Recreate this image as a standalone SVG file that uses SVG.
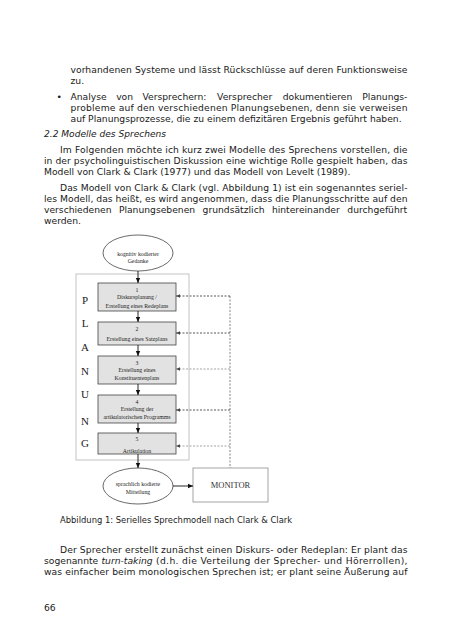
<svg xmlns="http://www.w3.org/2000/svg" width="452" height="640" viewBox="0 0 452 640">
<defs>
<style>
.t{font-family:"DejaVu Sans",Verdana,sans-serif;font-size:9.2px;fill:#1a1a1a}
.c{font-family:"DejaVu Sans",Verdana,sans-serif;font-size:8.4px;fill:#1a1a1a}
.i{font-style:italic}
.b{font-family:"Liberation Serif","Times New Roman",serif;font-size:5.8px;fill:#222;text-anchor:middle}
.L{font-family:"Liberation Serif","Times New Roman",serif;font-size:11px;fill:#222;text-anchor:middle}
.box{fill:#e2e2e2;stroke:#444;stroke-width:0.8}
.ell{fill:#fff;stroke:#444;stroke-width:0.8}
.arr{stroke:#111;stroke-width:0.9;fill:none}
.dash{stroke-width:0.9;stroke-dasharray:2 1.5;fill:none}
</style>
<marker id="ah" markerWidth="6" markerHeight="6" refX="5" refY="3" orient="auto" markerUnits="userSpaceOnUse">
<path d="M0,0.8 L5,3 L0,5.2 Z" fill="#111"/>
</marker>
<marker id="dh" markerWidth="5" markerHeight="5" refX="4" refY="2.5" orient="auto" markerUnits="userSpaceOnUse">
<path d="M0,0.8 L4,2.5 L0,4.2 Z" fill="#444"/>
</marker>
</defs>
<rect width="452" height="640" fill="#fff"/>

<g id="body-text">
<text class="t" x="70.5" y="73" textLength="337" lengthAdjust="spacing">vorhandenen Systeme und lässt Rückschlüsse auf deren Funktionsweise</text>
<text class="t" x="70.5" y="84">zu.</text>
<text class="t" x="56.5" y="100">•</text>
<text class="t" y="100"><tspan x="70.5">Analyse</tspan><tspan x="116.2">von</tspan><tspan x="142.5">Versprechern:</tspan><tspan x="217.1">Versprecher</tspan><tspan x="282.7">dokumentieren</tspan><tspan x="362.3">Planungs-</tspan></text>
<text class="t" x="70.5" y="111" textLength="337" lengthAdjust="spacing">probleme auf den verschiedenen Planungsebenen, denn sie verweisen</text>
<text class="t" x="70.5" y="122">auf Planungsprozesse, die zu einem defizitären Ergebnis geführt haben.</text>
<text class="t i" x="44" y="137" textLength="122" lengthAdjust="spacingAndGlyphs">2.2 Modelle des Sprechens</text>
<text class="t" x="60" y="152.5" textLength="347.5" lengthAdjust="spacing">Im Folgenden möchte ich kurz zwei Modelle des Sprechens vorstellen, die</text>
<text class="t" x="44" y="163.5" textLength="363.5" lengthAdjust="spacing">in der psycholinguistischen Diskussion eine wichtige Rolle gespielt haben, das</text>
<text class="t" x="44" y="174.5">Modell von Clark &amp; Clark (1977) und das Modell von Levelt (1989).</text>
<text class="t" x="60" y="191" textLength="347.5" lengthAdjust="spacing">Das Modell von Clark &amp; Clark (vgl. Abbildung 1) ist ein sogenanntes seriel-</text>
<text class="t" x="44" y="202" textLength="363.5" lengthAdjust="spacing">les Modell, das heißt, es wird angenommen, dass die Planungsschritte auf den</text>
<text class="t" y="213"><tspan x="44">verschiedenen</tspan><tspan x="118.9">Planungsebenen</tspan><tspan x="202.6">grundsätzlich</tspan><tspan x="271.9">hintereinander</tspan><tspan x="347.3">durchgeführt</tspan></text>
<text class="t" x="44" y="224">werden.</text>
<text class="c" x="60" y="523">Abbildung 1: Serielles Sprechmodell nach Clark &amp; Clark</text>
<text class="t" x="60" y="553" textLength="347.5" lengthAdjust="spacing">Der Sprecher erstellt zunächst einen Diskurs- oder Redeplan: Er plant das</text>
<text class="t" x="44" y="564">sogenannte</text>
<text class="t i" x="101.5" y="564">turn-taking</text>
<text class="t" x="156" y="564" textLength="251.5" lengthAdjust="spacing">(d.h. die Verteilung der Sprecher- und Hörerrollen),</text>
<text class="t" x="44" y="575" textLength="363.5" lengthAdjust="spacing">was einfacher beim monologischen Sprechen ist; er plant seine Äußerung auf</text>
<text class="t" x="44" y="611">66</text>
</g>

<g id="planung-frame">
<rect x="76" y="274" width="113" height="186" fill="#fff" stroke="#bdbdbd" stroke-width="0.9"/>
<text class="L" x="85" y="304">P</text>
<text class="L" x="85" y="327">L</text>
<text class="L" x="85" y="351">A</text>
<text class="L" x="85" y="375">N</text>
<text class="L" x="85" y="398">U</text>
<text class="L" x="85" y="425">N</text>
<text class="L" x="85" y="447">G</text>
</g>

<g id="gedanke">
<ellipse class="ell" cx="138" cy="253" rx="35" ry="18"/>
<text class="b" x="138" y="256">kognitiv kodierter</text>
<text class="b" x="138" y="263">Gedanke</text>
</g>
<g id="box1">
<rect class="box" x="98" y="283" width="78" height="28"/>
<text class="b" x="137" y="292">1</text>
<text class="b" x="137" y="299">Diskursplanung /</text>
<text class="b" x="137" y="307.5">Erstellung eines Redeplans</text>
</g>
<g id="box2">
<rect class="box" x="98" y="322" width="78" height="23"/>
<text class="b" x="137" y="331">2</text>
<text class="b" x="137" y="341">Erstellung eines Satzplans</text>
</g>
<g id="box3">
<rect class="box" x="98" y="356" width="78" height="28"/>
<text class="b" x="137" y="364.5">3</text>
<text class="b" x="137" y="371.5">Erstellung eines</text>
<text class="b" x="137" y="380">Konstituentenplans</text>
</g>
<g id="box4">
<rect class="box" x="98" y="395" width="78" height="28"/>
<text class="b" x="137" y="404">4</text>
<text class="b" x="137" y="411">Erstellung der</text>
<text class="b" x="137" y="419">artikulatorischen Programms</text>
</g>
<g id="box5">
<rect class="box" x="98" y="433" width="78" height="21"/>
<text class="b" x="137" y="441">5</text>
<text class="b" x="137" y="452.5">Artikulation</text>
</g>
<g id="mitteilung">
<ellipse class="ell" cx="138" cy="486" rx="35" ry="18"/>
<text class="b" x="138" y="486">sprachlich kodierte</text>
<text class="b" x="138" y="493.5">Mitteilung</text>
</g>
<g id="monitor">
<rect x="193" y="468" width="75" height="34" fill="#fff" stroke="#9a9a9a" stroke-width="0.9"/>
<text x="230.5" y="488" text-anchor="middle" style="font-family:'Liberation Serif','Times New Roman',serif;font-size:8.5px;fill:#333">MONITOR</text>
</g>

<g id="connectors">
<line class="arr" x1="138" y1="271" x2="138" y2="283" marker-end="url(#ah)"/>
<line class="arr" x1="138" y1="311" x2="138" y2="322" marker-end="url(#ah)"/>
<line class="arr" x1="138" y1="345" x2="138" y2="356" marker-end="url(#ah)"/>
<line class="arr" x1="138" y1="384" x2="138" y2="395" marker-end="url(#ah)"/>
<line class="arr" x1="138" y1="423" x2="138" y2="433" marker-end="url(#ah)"/>
<line class="arr" x1="138" y1="454" x2="138" y2="468" marker-end="url(#ah)"/>
<line class="arr" x1="173" y1="486" x2="193" y2="486" marker-end="url(#ah)"/>
<line class="dash" stroke="#777" x1="230" y1="296" x2="230" y2="468"/>
<line class="dash" stroke="#444" x1="230" y1="296" x2="176" y2="296" marker-end="url(#dh)"/>
<line class="dash" stroke="#444" x1="230" y1="333" x2="176" y2="333" marker-end="url(#dh)"/>
<line class="dash" stroke="#999" x1="230" y1="369" x2="176" y2="369" marker-end="url(#dh)"/>
<line class="dash" stroke="#444" x1="230" y1="410" x2="176" y2="410" marker-end="url(#dh)"/>
<line class="dash" stroke="#999" x1="230" y1="446" x2="176" y2="446" marker-end="url(#dh)"/>
</g>
</svg>
